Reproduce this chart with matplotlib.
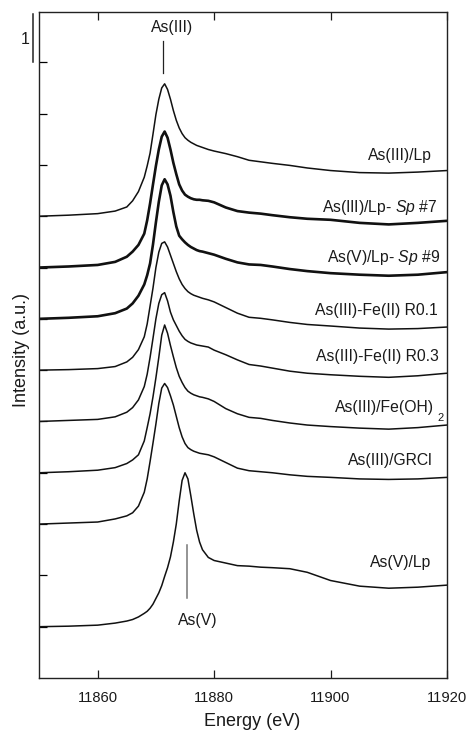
import matplotlib
matplotlib.use("Agg")
import matplotlib.pyplot as plt
import numpy as np

plt.rcParams["font.family"] = ["Liberation Sans", "DejaVu Sans"]
plt.rcParams["mathtext.fontset"] = "custom"
plt.rcParams["mathtext.rm"] = "Liberation Sans"
plt.rcParams["mathtext.it"] = "Liberation Sans:italic"

# Energy grid (eV)
energy = [11850, 11855, 11860, 11863, 11865, 11866, 11867, 11868, 11868.5, 11869,
          11869.5, 11870, 11870.5, 11871, 11871.5, 11872, 11872.5, 11873, 11873.5, 11874,
          11874.5, 11875, 11875.5, 11876, 11876.5, 11877, 11877.5, 11878, 11879, 11880,
          11882, 11884, 11886, 11888, 11890, 11893, 11896, 11900, 11905, 11910,
          11915, 11920]

# Normalized XANES spectra
as3_lp = [0.00, 0.02, 0.05, 0.10, 0.18, 0.30, 0.48, 0.76, 0.98, 1.23,
          1.60, 1.98, 2.28, 2.50, 2.58, 2.47, 2.28, 2.06, 1.87, 1.72,
          1.61, 1.53, 1.48, 1.44, 1.41, 1.38, 1.36, 1.34, 1.30, 1.27,
          1.22, 1.16, 1.09, 1.06, 1.03, 0.99, 0.94, 0.89, 0.85, 0.84,
          0.86, 0.89]
as3_lp_sp7 = [0.00, 0.02, 0.05, 0.11, 0.21, 0.31, 0.44, 0.66, 0.92, 1.25,
              1.62, 1.98, 2.30, 2.55, 2.65, 2.53, 2.30, 2.04, 1.82, 1.62,
              1.50, 1.42, 1.38, 1.35, 1.33, 1.32, 1.32, 1.31, 1.30, 1.27,
              1.17, 1.10, 1.07, 1.05, 1.02, 0.98, 0.95, 0.93, 0.87, 0.84,
              0.87, 0.91]
as5_lp_sp9 = [0.00, 0.02, 0.05, 0.11, 0.20, 0.30, 0.45, 0.67, 0.85, 1.08,
              1.45, 1.88, 2.28, 2.60, 2.72, 2.62, 2.40, 2.08, 1.80, 1.62,
              1.55, 1.49, 1.44, 1.40, 1.37, 1.34, 1.32, 1.31, 1.28, 1.25,
              1.17, 1.10, 1.06, 1.05, 1.02, 0.97, 0.93, 0.89, 0.86, 0.84,
              0.86, 0.91]
as3_fe2_r01 = [0.00, 0.01, 0.03, 0.07, 0.16, 0.25, 0.40, 0.65, 0.90, 1.25,
               1.60, 2.00, 2.30, 2.47, 2.50, 2.40, 2.24, 2.08, 1.92, 1.78,
               1.67, 1.59, 1.53, 1.49, 1.46, 1.44, 1.42, 1.40, 1.37, 1.33,
               1.22, 1.11, 1.03, 1.01, 0.98, 0.93, 0.89, 0.86, 0.82, 0.80,
               0.81, 0.84]
as3_fe2_r03 = [0.00, 0.02, 0.04, 0.09, 0.18, 0.27, 0.42, 0.68, 0.92, 1.25,
               1.62, 2.00, 2.30, 2.47, 2.51, 2.35, 2.13, 1.98, 1.87, 1.76,
               1.67, 1.60, 1.56, 1.53, 1.51, 1.49, 1.48, 1.47, 1.45, 1.39,
               1.30, 1.20, 1.11, 1.08, 1.04, 0.98, 0.94, 0.91, 0.88, 0.86,
               0.89, 0.94]
as3_feoh2 = [0.00, 0.02, 0.05, 0.10, 0.18, 0.25, 0.35, 0.62, 0.88, 1.15,
             1.48, 1.85, 2.25, 2.68, 2.88, 2.72, 2.48, 2.26, 2.05, 1.88,
             1.76, 1.66, 1.59, 1.55, 1.52, 1.50, 1.48, 1.47, 1.44, 1.39,
             1.25, 1.15, 1.08, 1.06, 1.02, 0.97, 0.93, 0.90, 0.87, 0.85,
             0.88, 0.93]
as3_grcl = [0.00, 0.02, 0.04, 0.10, 0.16, 0.22, 0.35, 0.62, 0.88, 1.22,
            1.58, 1.95, 2.35, 2.65, 2.74, 2.66, 2.50, 2.32, 2.10, 1.88,
            1.70, 1.57, 1.49, 1.45, 1.42, 1.40, 1.38, 1.37, 1.35, 1.31,
            1.20, 1.09, 1.04, 1.02, 1.00, 0.96, 0.93, 0.91, 0.88, 0.87,
            0.88, 0.91]
as5_lp = [0.00, 0.01, 0.03, 0.07, 0.11, 0.14, 0.19, 0.26, 0.30, 0.36,
          0.44, 0.55, 0.66, 0.80, 0.98, 1.15, 1.36, 1.65, 2.00, 2.45,
          2.85, 3.00, 2.88, 2.55, 2.20, 1.88, 1.65, 1.50, 1.35, 1.29,
          1.24, 1.19, 1.18, 1.16, 1.15, 1.13, 1.06, 0.90, 0.79, 0.75,
          0.77, 0.81]

spectra = [as3_lp, as3_lp_sp7, as5_lp_sp9, as3_fe2_r01, as3_fe2_r03,
           as3_feoh2, as3_grcl, as5_lp]
labels = ["As(III)/Lp",
          r"As(III)/Lp- $\mathit{Sp}$ #7",
          r"As(V)/Lp- $\mathit{Sp}$ #9",
          "As(III)-Fe(II) R0.1",
          "As(III)-Fe(II) R0.3",
          "As(III)/Fe(OH)",
          "As(III)/GRCl",
          "As(V)/Lp"]

# Vertical stacking offsets and label anchors
offsets = [8, 7, 6, 5, 4, 3, 2, 0]
widths = [1.1, 1.9, 1.9, 1.1, 1.1, 1.1, 1.1, 1.1]
label_x = [11917.4, 11918.3, 11918.9, 11918.4, 11918.6, 11917.73, 11917.6, 11917.3]
label_y = [9.10, 8.08, 7.11, 6.07, 5.17, 4.19, 3.15, 1.16]

fig = plt.figure(figsize=(4.70, 7.31), dpi=100)
ax = fig.add_axes([0.0840, 0.0725, 0.8670, 0.9111])

e = np.array(energy)
for spec, off, lw in zip(spectra, offsets, widths):
    ax.plot(e, np.array(spec) + off, color="#111111", lw=lw,
            solid_joinstyle="round", solid_capstyle="round")

for lab, lx, ly in zip(labels, label_x, label_y):
    ax.text(lx, ly, lab, ha="right", va="baseline", fontsize=11.3, color="#1a1a1a")
# lowered subscript of Fe(OH)2
ax.text(11918.29, 4.01, "2", ha="left", va="baseline", fontsize=8, color="#1a1a1a")

# Edge position markers
ax.plot([11871.25, 11871.25], [10.79, 11.42], color="#222222", lw=0.9)
ax.text(11872.7, 11.67, "As(III)", ha="center", va="center", fontsize=11.3, color="#1a1a1a")
ax.plot([11875.27, 11875.27], [0.55, 1.59], color="#777777", lw=1.1)
ax.text(11877.2, 0.13, "As(V)", ha="center", va="center", fontsize=11.3, color="#1a1a1a")

# Intensity scale bar
ax.plot([11848.9, 11848.9], [11.0, 11.94], color="#222222", lw=1.1, clip_on=False)
ax.text(11847.55, 11.45, "1", ha="center", va="center", fontsize=11.5, color="#1a1a1a")

ax.set_xlim(11850, 11920)
ax.set_ylim(-1.0, 11.98)
ax.set_xticks([11860, 11880, 11900, 11920])
ax.set_yticks(range(0, 12))
ax.set_yticklabels([])
ax.tick_params(axis="x", direction="in", top=True, length=6, width=0.9,
               labelsize=10.6, pad=9, colors="#1a1a1a")
ax.tick_params(axis="y", direction="in", right=False, length=6, width=0.9)
for sp in ax.spines.values():
    sp.set_linewidth(1.0)
    sp.set_color("#222222")

fig.text(252 / 470, 1 - 721 / 731, "Energy (eV)", ha="center", va="center",
         fontsize=13, color="#1a1a1a")
fig.text(21.7 / 470, 1 - 350 / 731, "Intensity (a.u.)", ha="center", va="center",
         rotation=90, fontsize=13, color="#1a1a1a")

fig.savefig("out.png", dpi=100)
